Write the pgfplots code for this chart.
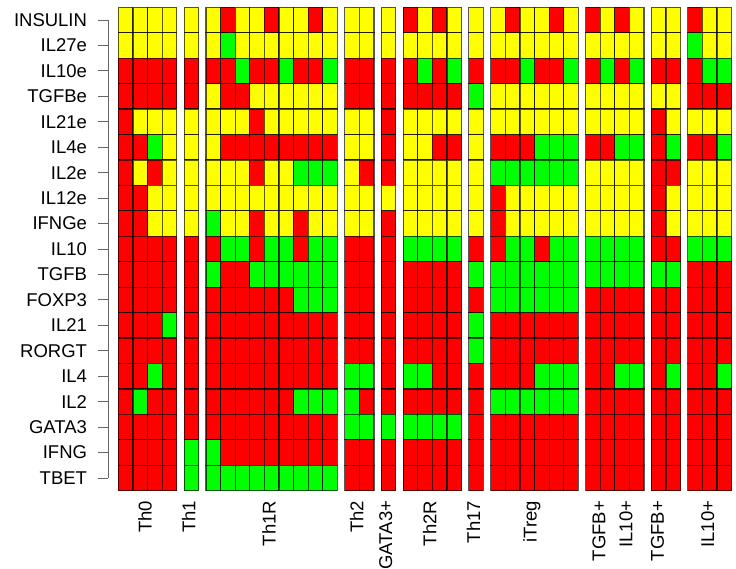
\documentclass[border=0pt]{standalone}
\usepackage{fontspec}
\setmainfont{Liberation Sans}
\usepackage{pgfplots}
\pgfplotsset{compat=1.18}
\usepackage{pgfplotstable}
\definecolor{cR}{RGB}{255,0,0}
\definecolor{cY}{RGB}{255,255,0}
\definecolor{cG}{RGB}{0,255,0}
\pgfdeclareplotmark{cell}{\pgfpathrectangle{\pgfpoint{-7.3bp}{-12.72bp}}{\pgfpoint{14.6bp}{25.44bp}}\pgfusepathqfillstroke}
% codes: 0 = red, 1 = yellow, 2 = green
\pgfplotstableread{
x INSULIN IL27e IL10e TGFBe IL21e IL4e IL2e IL12e IFNGe IL10 TGFB FOXP3 IL21 RORGT IL4 IL2 GATA3 IFNG TBET
0.5  1 1 0 0 0 0 0 0 0 0 0 0 0 0 0 0 0 0 0
1.5  1 1 0 0 1 0 1 0 0 0 0 0 0 0 0 2 0 0 0
2.5  1 1 0 0 1 2 0 1 1 0 0 0 0 0 2 0 0 0 0
3.5  1 1 0 0 1 1 1 1 1 0 0 0 2 0 0 0 0 0 0
5.0  1 1 0 0 1 1 1 1 1 0 0 0 0 0 0 0 0 2 2
6.5  1 1 0 1 1 1 1 1 2 0 2 0 0 0 0 0 0 2 2
7.5  0 2 0 0 1 0 1 1 1 2 0 0 0 0 0 0 0 0 2
8.5  1 1 2 0 1 0 1 1 1 2 0 0 0 0 0 0 0 0 2
9.5  1 1 0 1 0 0 0 1 0 0 2 0 0 0 0 0 0 0 2
10.5 0 1 0 1 1 0 1 1 1 2 2 0 0 0 0 0 0 0 2
11.5 1 1 2 1 1 0 1 1 1 2 2 0 0 0 0 0 0 0 2
12.5 1 1 0 1 1 0 2 1 0 0 2 2 0 0 0 2 0 0 2
13.5 0 1 0 1 1 0 2 1 1 2 2 2 0 0 0 2 0 0 2
14.5 1 1 2 1 1 0 2 1 1 2 2 2 0 0 0 2 0 0 2
16.0 1 1 0 0 1 1 1 1 1 0 0 0 0 0 2 2 2 0 0
17.0 1 1 0 0 1 1 0 1 1 0 0 0 0 0 2 0 2 0 0
18.5 1 1 0 0 0 0 0 1 0 0 0 0 0 0 0 0 2 0 0
20.0 0 1 0 0 1 1 1 1 1 2 0 0 0 0 2 0 2 0 0
21.0 1 1 2 0 1 1 1 1 1 2 0 0 0 0 2 0 2 0 0
22.0 0 1 0 0 1 0 1 1 1 2 0 0 0 0 0 0 2 0 0
23.0 1 1 2 0 1 0 1 1 1 2 0 0 0 0 0 0 2 0 0
24.5 1 1 0 2 1 1 1 1 1 0 2 0 2 2 0 0 0 0 0
26.0 1 1 0 1 1 0 2 0 0 0 2 2 0 0 0 2 0 0 0
27.0 0 1 0 1 1 0 2 1 1 2 2 2 0 0 0 2 0 0 0
28.0 1 1 2 1 1 0 2 1 1 2 2 2 0 0 0 2 0 0 0
29.0 1 1 0 1 1 2 2 1 1 0 2 2 0 0 2 2 0 0 0
30.0 0 1 0 1 1 2 2 1 1 2 2 2 0 0 2 2 0 0 0
31.0 1 1 2 1 1 2 2 1 1 2 2 2 0 0 2 2 0 0 0
32.5 0 1 0 1 1 0 1 1 1 2 2 0 0 0 0 0 0 0 0
33.5 1 1 2 1 1 0 1 1 1 2 2 0 0 0 0 0 0 0 0
34.5 0 1 0 1 1 2 1 1 1 2 2 0 0 0 2 0 0 0 0
35.5 1 1 2 1 1 2 1 1 1 2 2 0 0 0 2 0 0 0 0
37.0 1 1 0 1 0 0 0 0 0 0 2 0 0 0 0 0 0 0 0
38.0 1 1 0 1 1 2 0 1 1 0 2 0 0 0 2 0 0 0 0
39.5 0 2 0 0 1 0 1 1 1 2 0 0 0 0 0 0 0 0 0
40.5 1 1 2 0 1 0 1 1 1 2 0 0 0 0 0 0 0 0 0
41.5 1 1 2 0 1 2 1 1 1 2 0 0 0 0 2 0 0 0 0
42.5 0 2 0 0 1 2 1 1 1 2 0 0 0 0 2 0 0 0 0
}\cells
\pgfplotsset{cellplot/.style={scatter, only marks, mark=cell,
  point meta=explicit symbolic,
  mark options={line width=1.2bp},
  scatter/classes={
    0={draw=black,draw opacity=0.65,fill=cR},
    1={draw=black,draw opacity=0.65,fill=cY},
    2={draw=black,draw opacity=0.65,fill=cG}}}}
\begin{document}
\begin{tikzpicture}
\useasboundingbox (-108.2bp,-78.3bp) rectangle (627.8bp,490.7bp);
\begin{axis}[
  scale only axis, width=627.8bp, height=483.4bp,
  xmin=-0.7, xmax=42.3, ymin=-0.5, ymax=18.5,
  clip marker paths=true,
  axis line style={draw=none},
  tick align=outside, major tick length=10bp,
  ytick={0,...,18},
  yticklabels={TBET,IFNG,GATA3,IL2,IL4,RORGT,IL21,FOXP3,TGFB,IL10,IFNGe,IL12e,IL2e,IL4e,IL21e,TGFBe,IL10e,IL27e,INSULIN},
  ytick pos=left,
  ytick style={black!60, line width=0.9bp},
  yticklabel style={font=\fontsize{18.5bp}{22bp}\selectfont, inner sep=0pt, xshift=-11bp},
  xtick={2,5,10.5,16.5,18.5,21.5,24.5,28.5,33.1,34.95,37.1,40.55},
  xticklabels={Th0,Th1,Th1R,Th2,GATA3+,Th2R,Th17,iTreg,TGFB+,IL10+,TGFB+,IL10+},
  xtick pos=bottom,
  xtick style={draw=none},
  xticklabel style={font=\fontsize{18.5bp}{22bp}\selectfont, rotate=90, anchor=east, inner sep=0pt, yshift=2.7bp},
]
\addplot[cellplot] table[x=x, y expr=18, meta=INSULIN] {\cells};
\addplot[cellplot] table[x=x, y expr=17, meta=IL27e] {\cells};
\addplot[cellplot] table[x=x, y expr=16, meta=IL10e] {\cells};
\addplot[cellplot] table[x=x, y expr=15, meta=TGFBe] {\cells};
\addplot[cellplot] table[x=x, y expr=14, meta=IL21e] {\cells};
\addplot[cellplot] table[x=x, y expr=13, meta=IL4e] {\cells};
\addplot[cellplot] table[x=x, y expr=12, meta=IL2e] {\cells};
\addplot[cellplot] table[x=x, y expr=11, meta=IL12e] {\cells};
\addplot[cellplot] table[x=x, y expr=10, meta=IFNGe] {\cells};
\addplot[cellplot] table[x=x, y expr=9, meta=IL10] {\cells};
\addplot[cellplot] table[x=x, y expr=8, meta=TGFB] {\cells};
\addplot[cellplot] table[x=x, y expr=7, meta=FOXP3] {\cells};
\addplot[cellplot] table[x=x, y expr=6, meta=IL21] {\cells};
\addplot[cellplot] table[x=x, y expr=5, meta=RORGT] {\cells};
\addplot[cellplot] table[x=x, y expr=4, meta=IL4] {\cells};
\addplot[cellplot] table[x=x, y expr=3, meta=IL2] {\cells};
\addplot[cellplot] table[x=x, y expr=2, meta=GATA3] {\cells};
\addplot[cellplot] table[x=x, y expr=1, meta=IFNG] {\cells};
\addplot[cellplot] table[x=x, y expr=0, meta=TBET] {\cells};
\coordinate (yb) at (axis cs:-0.7,0);
\coordinate (yt) at (axis cs:-0.7,18);
\end{axis}
\draw[black!60, line width=0.9bp] (yb) -- (yt);
\end{tikzpicture}
\end{document}
